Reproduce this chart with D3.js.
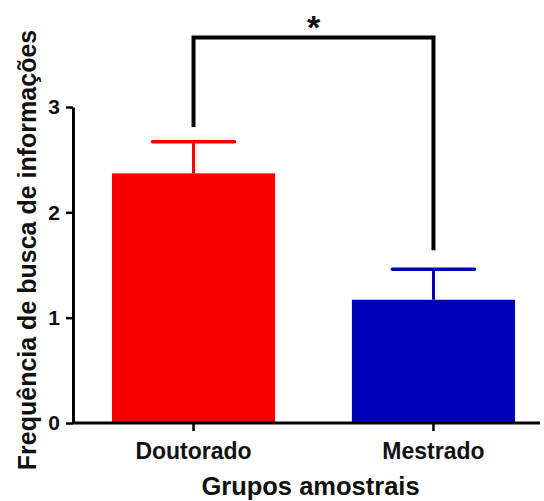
<!DOCTYPE html>
<html lang="pt">
<head>
  <meta charset="UTF-8">
  <title>Grupos amostrais</title>
  <script src="https://d3js.org/d3.v7.min.js"></script>
  <style>
    body { margin: 0; background: #fff; }
    svg { display: block; font-family: "Liberation Sans", Arial, sans-serif; }
  </style>
</head>
<body>
  <svg id="chart" width="544" height="501"></svg>
  <script>
    // dados
    const groups = ['Doutorado', 'Mestrado'];
    const means = [2.37, 1.17];
    const errors = [0.30, 0.29];
    const colors = ['#fb0000', '#0000b8'];
    const yTicks = [0, 1, 2, 3];
    // barra de significância (nível do topo e fim de cada perna)
    const sigTop = 3.66;
    const sigLegEnds = [2.81, 1.64];
    const sigLabel = '*';

    const svg = d3.select('#chart');

    const x = d3.scaleBand().domain(groups).range([87, 540])
      .paddingInner(0.32).paddingOuter(0.104);
    const y = d3.scaleLinear().domain([0, 3]).range([423, 107]);
    const axisX0 = 73;

    // barras
    svg.selectAll('rect.bar')
      .data(groups)
      .join('rect')
      .attr('class', 'bar')
      .attr('x', d => x(d))
      .attr('y', (d, i) => y(means[i]))
      .attr('width', x.bandwidth())
      .attr('height', (d, i) => y(0) - y(means[i]))
      .attr('fill', (d, i) => colors[i]);

    // barras de erro
    const capHalf = 41;
    groups.forEach((g, i) => {
      const cx = x(g) + x.bandwidth() / 2;
      svg.append('line')
        .attr('x1', cx).attr('x2', cx)
        .attr('y1', y(means[i])).attr('y2', y(means[i] + errors[i]))
        .attr('stroke', colors[i]).attr('stroke-width', 3);
      svg.append('line')
        .attr('x1', cx - capHalf).attr('x2', cx + capHalf)
        .attr('y1', y(means[i] + errors[i])).attr('y2', y(means[i] + errors[i]))
        .attr('stroke', colors[i]).attr('stroke-width', 3.5)
        .attr('stroke-linecap', 'round');
    });

    // eixo Y
    const yAxis = svg.append('g')
      .attr('transform', `translate(${axisX0},0)`)
      .call(d3.axisLeft(y).tickValues(yTicks).tickFormat(d3.format('d')).tickSize(7).tickSizeOuter(0));
    yAxis.select('.domain').attr('stroke-width', 3);
    yAxis.selectAll('.tick line').attr('stroke-width', 2.5);
    yAxis.selectAll('.tick text')
      .attr('font-size', 21).attr('font-weight', 'bold').attr('x', -13)
      .attr('font-family', '"Liberation Sans", Arial, sans-serif').attr('fill', '#111');

    // eixo X
    const xAxis = svg.append('g')
      .attr('transform', `translate(0,${y(0)})`)
      .call(d3.axisBottom(x).tickSize(8).tickSizeOuter(0));
    xAxis.select('.domain')
      .attr('d', `M${axisX0},0H${x.range()[1]}`)
      .attr('stroke-width', 3);
    xAxis.selectAll('.tick line').attr('stroke-width', 2.5);
    xAxis.selectAll('.tick text')
      .attr('font-size', 23).attr('font-weight', 'bold').attr('y', 20)
      .attr('font-family', '"Liberation Sans", Arial, sans-serif').attr('fill', '#111');

    // títulos dos eixos
    svg.append('text')
      .attr('x', x.range()[0] + (x.range()[1] - x.range()[0]) / 2 - 3)
      .attr('y', 495)
      .attr('text-anchor', 'middle')
      .attr('font-size', 25.5).attr('font-weight', 'bold').attr('fill', '#111')
      .text('Grupos amostrais');

    svg.append('text')
      .attr('transform', 'translate(36,250) rotate(-90)')
      .attr('text-anchor', 'middle')
      .attr('font-size', 25).attr('font-weight', 'bold').attr('fill', '#111')
      .text('Frequência de busca de informações');

    // significância
    const cx0 = x(groups[0]) + x.bandwidth() / 2;
    const cx1 = x(groups[1]) + x.bandwidth() / 2;
    svg.append('path')
      .attr('d', `M${cx0},${y(sigLegEnds[0])}V${y(sigTop)}H${cx1}V${y(sigLegEnds[1])}`)
      .attr('fill', 'none').attr('stroke', '#000').attr('stroke-width', 4);
    svg.append('text')
      .attr('x', (cx0 + cx1) / 2)
      .attr('y', y(sigTop) + 2)
      .attr('text-anchor', 'middle')
      .attr('font-size', 34).attr('font-weight', 'bold').attr('fill', '#111')
      .text(sigLabel);
  </script>
</body>
</html>
